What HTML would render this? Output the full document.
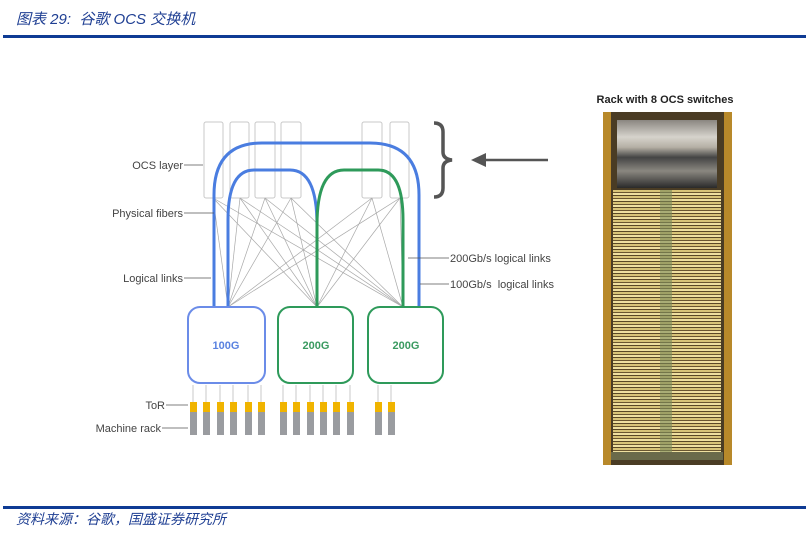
<!DOCTYPE html>
<html><head><meta charset="utf-8"><style>
html,body{margin:0;padding:0;background:#fff;}
body{width:810px;height:533px;position:relative;overflow:hidden;font-family:"Liberation Sans","Noto Sans CJK SC",sans-serif;}
.hd{position:absolute;left:16px;top:8px;font-size:15px;color:#1f3f93;font-style:italic;}
.ft{position:absolute;left:16px;top:509px;font-size:14px;color:#1f3f93;font-style:italic;}
.ln{position:absolute;left:3px;width:803px;height:3px;background:#0e3b94;}
.photo{position:absolute;left:603px;top:112px;width:129px;height:353px;background:#4a3c24;}
.inner{position:absolute;left:10px;top:78px;width:108px;height:262px;background:repeating-linear-gradient(180deg,#d8c478 0 2px,#6a5630 2px 3px,#efe0a0 3px 5px,#5a4826 5px 6px);}
.mid{position:absolute;left:57px;top:78px;width:12px;height:262px;background:#7a8a5a;opacity:.6}
.topb{position:absolute;left:14px;top:8px;width:100px;height:68px;background:linear-gradient(180deg,#8a8680,#d6d3cc 25%,#b5b0a5 40%,#444 55%,#8a8780 75%,#2a2a2a);}
.side{position:absolute;top:0;width:8px;height:353px;background:#b8892a;}
</style></head><body>
<div class="hd">图表 29:&nbsp; 谷歌 OCS 交换机</div>
<div class="ln" style="top:35px"></div>
<div class="ln" style="top:506px"></div>
<div class="ft">资料来源：谷歌，国盛证券研究所</div>

<svg width="810" height="533" style="position:absolute;left:0;top:0" font-family="Liberation Sans, sans-serif">
<defs>
<g id="b"><rect x="0" y="402" width="7" height="10" fill="#f0b400"/><rect x="0" y="412" width="7" height="23" fill="#9a9ca0"/></g>
</defs>
<g fill="none" stroke="#c8c8c8" stroke-width="1">
<rect x="204" y="122" width="19" height="76" rx="2"/>
<rect x="230" y="122" width="19" height="76" rx="2"/>
<rect x="255" y="122" width="20" height="76" rx="2"/>
<rect x="281" y="122" width="20" height="76" rx="2"/>
<rect x="362" y="122" width="20" height="76" rx="2"/>
<rect x="390" y="122" width="19" height="76" rx="2"/>
</g>
<g stroke="#a8a8a8" stroke-width="0.7">
<line x1="228" y1="307" x2="213" y2="198"/><line x1="228" y1="307" x2="240" y2="198"/><line x1="228" y1="307" x2="265" y2="198"/><line x1="228" y1="307" x2="291" y2="198"/><line x1="228" y1="307" x2="372" y2="198"/><line x1="228" y1="307" x2="400" y2="198"/>
<line x1="317" y1="307" x2="213" y2="198"/><line x1="317" y1="307" x2="240" y2="198"/><line x1="317" y1="307" x2="265" y2="198"/><line x1="317" y1="307" x2="291" y2="198"/><line x1="317" y1="307" x2="372" y2="198"/><line x1="317" y1="307" x2="400" y2="198"/>
<line x1="403" y1="307" x2="213" y2="198"/><line x1="403" y1="307" x2="240" y2="198"/><line x1="403" y1="307" x2="265" y2="198"/><line x1="403" y1="307" x2="291" y2="198"/><line x1="403" y1="307" x2="372" y2="198"/><line x1="403" y1="307" x2="400" y2="198"/>
</g>
<g fill="none" stroke-width="3">
<path d="M214 307 L214 195 Q214 143 262 143 L370 143 Q419 143 419 195 L419 307" stroke="#4a7de0"/>
<path d="M228 307 L228 220 Q228 170 254 170 L290 170 Q317 170 317 225 L317 307" stroke="#4a7de0"/>
<path d="M317 307 L317 225 Q317 170 344 170 L378 170 Q403 170 403 220 L403 307" stroke="#2e9a5a"/>
</g>
<rect x="188" y="307" width="77" height="76" rx="12" fill="#fff" stroke="#6b8ce8" stroke-width="2"/>
<rect x="278" y="307" width="75" height="76" rx="12" fill="#fff" stroke="#2e9a5a" stroke-width="2"/>
<rect x="368" y="307" width="75" height="76" rx="12" fill="#fff" stroke="#2e9a5a" stroke-width="2"/>
<g font-size="11" font-weight="bold" text-anchor="middle">
<text x="226" y="349" fill="#5a82e0">100G</text>
<text x="316" y="349" fill="#3a9a60">200G</text>
<text x="406" y="349" fill="#3a9a60">200G</text>
</g>
<g stroke="#bbb" stroke-width="0.8">
<line x1="193" y1="385" x2="193" y2="402"/><line x1="206" y1="385" x2="206" y2="402"/><line x1="220" y1="385" x2="220" y2="402"/><line x1="233" y1="385" x2="233" y2="402"/><line x1="248" y1="385" x2="248" y2="402"/><line x1="261" y1="385" x2="261" y2="402"/>
<line x1="283" y1="385" x2="283" y2="402"/><line x1="296" y1="385" x2="296" y2="402"/><line x1="310" y1="385" x2="310" y2="402"/><line x1="323" y1="385" x2="323" y2="402"/><line x1="336" y1="385" x2="336" y2="402"/><line x1="350" y1="385" x2="350" y2="402"/>
<line x1="378" y1="385" x2="378" y2="402"/><line x1="391" y1="385" x2="391" y2="402"/>
</g>
<use href="#b" x="190"/><use href="#b" x="203"/><use href="#b" x="217"/><use href="#b" x="230"/><use href="#b" x="245"/><use href="#b" x="258"/>
<use href="#b" x="280"/><use href="#b" x="293"/><use href="#b" x="307"/><use href="#b" x="320"/><use href="#b" x="333"/><use href="#b" x="347"/>
<use href="#b" x="375"/><use href="#b" x="388"/>
<g font-size="11" fill="#444" text-anchor="end">
<text x="183" y="169">OCS layer</text>
<text x="183" y="217">Physical fibers</text>
<text x="183" y="282">Logical links</text>
<text x="165" y="409">ToR</text>
<text x="161" y="432">Machine rack</text>
</g>
<g stroke="#555" stroke-width="0.8">
<line x1="184" y1="165" x2="203" y2="165"/>
<line x1="184" y1="213" x2="214" y2="213"/>
<line x1="184" y1="278" x2="211" y2="278"/>
<line x1="166" y1="405" x2="188" y2="405"/>
<line x1="162" y1="428" x2="188" y2="428"/>
<line x1="408" y1="258" x2="449" y2="258"/>
<line x1="420" y1="284" x2="449" y2="284"/>
</g>
<g font-size="11" fill="#444">
<text x="450" y="262">200Gb/s logical links</text>
<text x="450" y="288">100Gb/s&#160; logical links</text>
</g>
<path d="M434 123 Q443 123 443 132 L443 152 Q443 159 452 160 Q443 161 443 168 L443 188 Q443 197 434 197" fill="none" stroke="#555" stroke-width="3.5"/>
<line x1="548" y1="160" x2="484" y2="160" stroke="#555" stroke-width="2.5"/>
<polygon points="471,160 486,153 486,167" fill="#555"/>
<text x="665" y="103" font-size="11" font-weight="bold" fill="#222" text-anchor="middle">Rack with 8 OCS switches</text>
</svg>
<div class="photo"><div class="side" style="left:0"></div><div class="side" style="right:0"></div><div class="topb"></div><div class="inner"></div><div class="mid"></div><div style="position:absolute;left:8px;top:340px;width:112px;height:8px;background:#6a6a4a"></div></div>
</body></html>
